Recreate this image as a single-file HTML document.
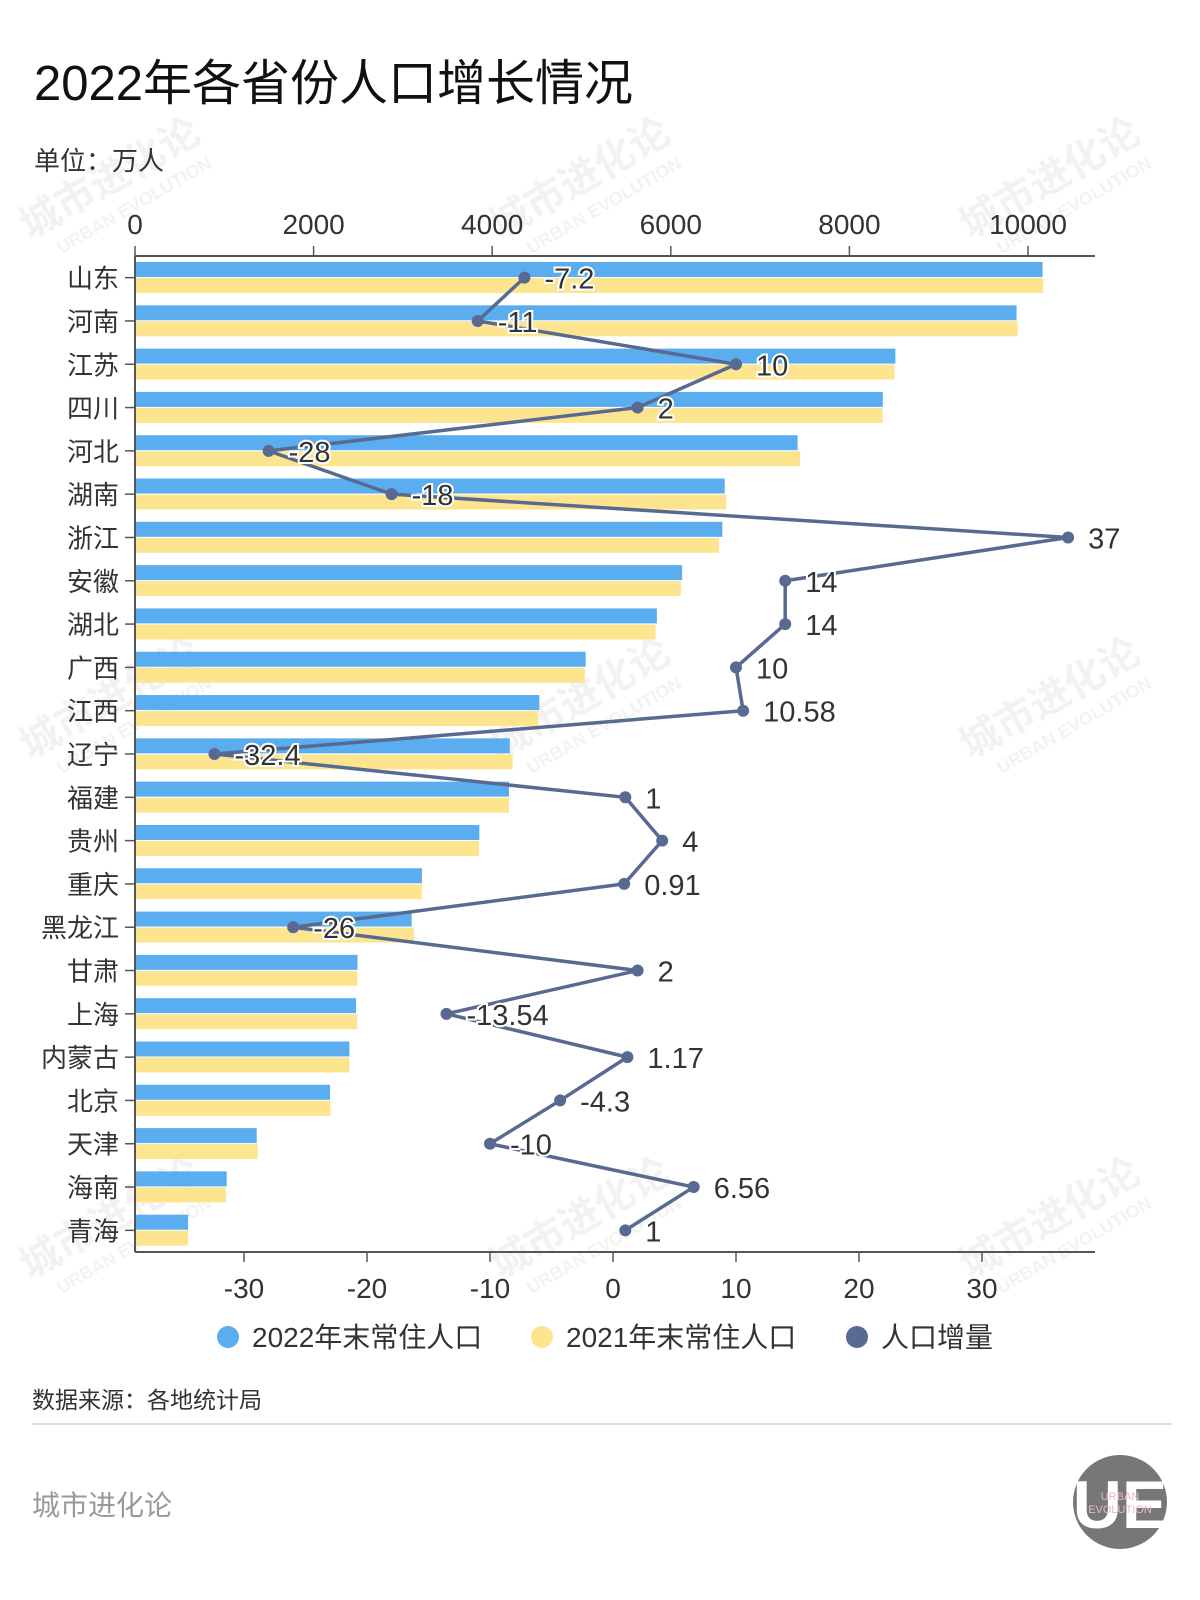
<!DOCTYPE html>
<html><head><meta charset="utf-8">
<style>
body{margin:0;background:#fff;width:1200px;height:1600px;overflow:hidden;font-family:"Liberation Sans","Noto Sans CJK SC",sans-serif;}
svg{position:absolute;left:0;top:0}
</style></head>
<body>
<svg id="chart" width="1200" height="1600" xmlns="http://www.w3.org/2000/svg" font-family="Liberation Sans, Noto Sans CJK SC, sans-serif">
<text x="34" y="100" font-size="49" fill="#111">2022年各省份人口增长情况</text>
<text x="34" y="170" font-size="26" fill="#333">单位：万人</text>
<g id="wm" fill="#000" fill-opacity="0.05" font-size="40" font-weight="bold"></g>
<g id="plot"></g>
<g font-size="28" fill="#333">
<circle cx="228" cy="1337" r="11" fill="#5aaef0"/>
<text x="252" y="1347">2022年末常住人口</text>
<circle cx="542" cy="1337" r="11" fill="#fde58f"/>
<text x="566" y="1347">2021年末常住人口</text>
<circle cx="857" cy="1337" r="11" fill="#586a92"/>
<text x="881" y="1347">人口增量</text>
</g>
<text x="32" y="1408" font-size="23" fill="#333">数据来源：各地统计局</text>
<line x1="32" y1="1424" x2="1172" y2="1424" stroke="#ddd" stroke-width="2"/>
<text x="32" y="1515" font-size="28" fill="#999">城市进化论</text>
<g>
<circle cx="1120" cy="1502" r="47" fill="#777"/>
<text x="1120" y="1528" font-size="68" font-weight="bold" fill="#fff" text-anchor="middle">UE</text>
<text x="1120" y="1500" font-size="11" fill="#e9b6d0" text-anchor="middle">URBAN</text>
<text x="1120" y="1513" font-size="11" fill="#e9b6d0" text-anchor="middle">EVOLUTION</text>
</g>
</svg>
<script>
const provinces=["山东","河南","江苏","四川","河北","湖南","浙江","安徽","湖北","广西","江西","辽宁","福建","贵州","重庆","黑龙江","甘肃","上海","内蒙古","北京","天津","海南","青海"];
const pop2022=[10163,9872,8515,8374,7420,6604,6577,6127,5844,5047,4528,4197,4188,3856,3213,3099,2492,2475,2401,2184,1363,1027,595];
const pop2021=[10170,9883,8505,8372,7448,6622,6540,6113,5830,5037,4517,4229,4187,3852,3212,3125,2490,2489,2400,2189,1373,1020,594];
const change=[-7.2,-11,10,2,-28,-18,37,14,14,10,10.58,-32.4,1,4,0.91,-26,2,-13.54,1.17,-4.3,-10,6.56,1];
const changeLabels=["-7.2","-11","10","2","-28","-18","37","14","14","10","10.58","-32.4","1","4","0.91","-26","2","-13.54","1.17","-4.3","-10","6.56","1"];
const topTicks=[0,2000,4000,6000,8000,10000];
const bottomTicks=[-30,-20,-10,0,10,20,30];

const NS="http://www.w3.org/2000/svg";
const plot=document.getElementById('plot');
const X0=135,X1=1095,TOP=256,BOT=1252;
const band=(BOT-TOP)/provinces.length;
const xPop=v=>X0+v*0.0893;
const xChg=v=>613+v*12.3;
function mk(tag,attrs,parent){const e=document.createElementNS(NS,tag);for(const k in attrs)e.setAttribute(k,attrs[k]);(parent||plot).appendChild(e);return e;}

const wm=document.getElementById('wm');
[[30,240],[500,240],[970,240],[30,760],[500,760],[970,760],[30,1280],[500,1280],[970,1280]].forEach(p=>{
  const t=mk('text',{x:p[0],y:p[1],transform:`rotate(-30 ${p[0]} ${p[1]})`},wm);t.textContent='城市进化论';
  const t2=mk('text',{x:p[0]+20,y:p[1]+28,'font-size':18,transform:`rotate(-30 ${p[0]} ${p[1]})`},wm);t2.textContent='URBAN EVOLUTION';
});

const ta=mk('line',{x1:X0,y1:TOP,x2:X1,y2:TOP,stroke:'#555','stroke-width':2});

const ba=mk('line',{x1:X0,y1:BOT,x2:X1,y2:BOT,stroke:'#555','stroke-width':2});

const la=mk('line',{x1:X0,y1:TOP,x2:X0,y2:BOT,stroke:'#555','stroke-width':2});

topTicks.forEach(v=>{
  const x=xPop(v);
  const l=mk('line',{x1:x,y1:TOP-10,x2:x,y2:TOP,stroke:'#555','stroke-width':1.5});
  
  const t=mk('text',{x:x,y:TOP-22,'text-anchor':'middle','font-size':28,fill:'#333'});t.textContent=v;
  
});
bottomTicks.forEach(v=>{
  const x=xChg(v);
  const l=mk('line',{x1:x,y1:BOT,x2:x,y2:BOT+10,stroke:'#555','stroke-width':1.5});
  
  const t=mk('text',{x:x,y:BOT+46,'text-anchor':'middle','font-size':28,fill:'#333'});t.textContent=v;
  
});

provinces.forEach((p,i)=>{
  const y=TOP+i*band;
  const b1=mk('rect',{x:X0+1,y:y+6,width:xPop(pop2022[i])-X0-1,height:15,fill:'#5aaef0'});
  
  const b2=mk('rect',{x:X0+1,y:y+22,width:xPop(pop2021[i])-X0-1,height:15,fill:'#fde58f'});
  
  const tk=mk('line',{x1:X0-10,y1:y+band/2,x2:X0,y2:y+band/2,stroke:'#555','stroke-width':1.5});
  
  const t=mk('text',{x:X0-16,y:y+band/2+10,'text-anchor':'end','font-size':26,fill:'#333'});t.textContent=p;
  
});

const pts=change.map((v,i)=>[xChg(v),TOP+(i+0.5)*band]);
const ln=mk('polyline',{points:pts.map(p=>p.join(',')).join(' '),fill:'none',stroke:'#586a92','stroke-width':3.5,'stroke-linejoin':'round'});

pts.forEach((p,i)=>{
  const c=mk('circle',{cx:p[0],cy:p[1],r:6,fill:'#586a92'});
  
});
pts.forEach((p,i)=>{
  const t=mk('text',{x:p[0]+20,y:p[1]+11,'font-size':29,fill:'#333',stroke:'#fff','stroke-width':4,'paint-order':'stroke'});
  t.textContent=changeLabels[i];
  
});
</script>
</body></html>
